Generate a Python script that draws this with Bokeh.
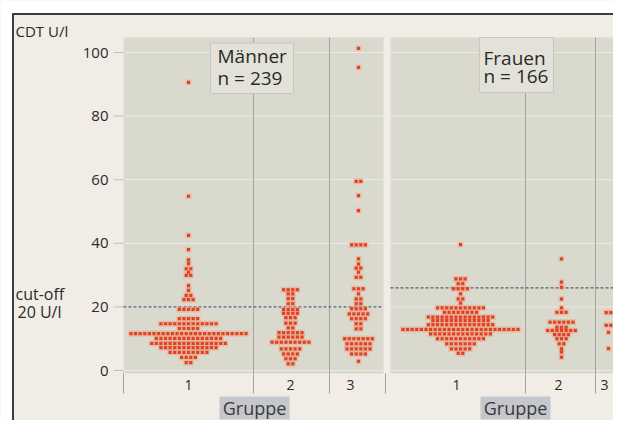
import numpy as np
from bokeh.plotting import figure
from bokeh.models import Range1d, ColumnDataSource
from bokeh.core.properties import value
from bokeh.embed import file_html
from bokeh.resources import INLINE

# ---------------- data ----------------
y_ticks = [0, 20, 40, 60, 80, 100]
group_labels = ["1", "2", "3"]
panel_titles = [("Männer", "n = 239"), ("Frauen", "n = 166")]
cutoffs = [20, 26]          # Männer, Frauen (U/l)
axis_title = "CDT U/l"
cutoff_note = ["cut-off", "20 U/l"]
x_title = "Gruppe"

# CDT values (U/l) and number of persons at each value
m1_values = [90.6, 54.8, 42.5, 38.0, 34.8, 33.6, 32.0, 30.9, 29.9, 26.7, 25.2, 23.6, 22.3,
             19.2, 16.3, 14.7, 13.2, 11.6, 10.1, 8.5, 7.2, 5.7, 4.1, 2.5]
m1_counts = [1, 1, 1, 1, 1, 1, 2, 1, 2, 1, 1, 2, 3,
             5, 5, 13, 5, 26, 15, 17, 13, 9, 4, 2]
m2_values = [25.4, 24.1, 22.6, 21.0, 19.2, 18.0, 16.6, 14.9, 13.4, 11.9, 10.5, 8.9, 6.8, 5.2, 3.7, 2.1]
m2_counts = [4, 2, 2, 2, 4, 4, 3, 3, 2, 6, 6, 9, 5, 4, 3, 2]
m3_values = [101.3, 95.3, 59.5, 55.0, 50.3, 39.5, 35.1, 33.5, 32.2, 30.9, 29.3, 25.7, 24.1, 22.5,
             21.0, 19.4, 17.8, 16.3, 14.7, 13.1, 10.0, 8.4, 6.8, 5.2, 2.9]
m3_counts = [1, 1, 2, 1, 1, 4, 1, 1, 2, 1, 2, 3, 1, 2,
             2, 4, 5, 4, 2, 2, 7, 6, 6, 4, 1]
f1_values = [39.6, 28.8, 27.3, 25.7, 24.1, 22.5, 21.2, 19.7, 18.3, 16.8, 15.7, 14.4, 12.9,
             11.5, 10.0, 8.4, 6.8, 5.4]
f1_counts = [1, 3, 2, 4, 1, 2, 1, 11, 8, 15, 13, 15, 26, 14, 11, 7, 5, 2]
f2_values = [35.1, 27.8, 26.2, 22.5, 19.7, 18.3, 15.2, 13.6, 12.6, 11.3, 10.0, 8.4, 6.8, 5.8, 4.2]
f2_counts = [1, 1, 1, 1, 1, 3, 6, 3, 7, 4, 3, 2, 1, 1, 1]
f3_values = [18.2, 14.2, 12.0, 6.9]
f3_counts = [2, 2, 1, 1]

# ---------------- layout ----------------
# x data units = picture pixels; y data units = U/l (3.18 px per unit, 0 at picture y 370)
PX = 3.18
def yv(pic_y):
    return (370.0 - pic_y) / PX

W, H = 613, 420
X_RANGE = (0, W)
Y_RANGE = (yv(H), yv(0))
PLOT_TOP, PLOT_BOT = yv(37), yv(373)
panels = [(123, 383), (390, 616)]
boundaries = [253, 329, 525, 595]
tick_marks = [123, 253, 329, 385, 525, 595]
label_pos = [188, 290, 350, 456, 558, 604]
centers = [188, 290, 358, 460, 561, 608]
DX = 4.6

BG = "#f1ece6"
PLOT_BG = "#d9dacd"
FONT = value("Open Sans")
TXT = "#2a2a2a"

p = figure(width=W, height=H, x_range=Range1d(*X_RANGE), y_range=Range1d(*Y_RANGE),
           output_backend="svg", toolbar_location=None, min_border=0,
           x_axis_type=None, y_axis_type=None)
p.background_fill_color = BG
p.border_fill_color = BG
p.outline_line_color = None
p.grid.visible = False

# page frame: white margin strips + dark border lines
p.quad(left=[X_RANGE[0], X_RANGE[0]], right=[12, X_RANGE[1]],
       bottom=[Y_RANGE[0], yv(13)], top=[Y_RANGE[1], Y_RANGE[1]],
       fill_color="white", line_color=None)
p.segment(x0=[12, 12.5], x1=[X_RANGE[1], 12.5], y0=[yv(13.5), yv(13)], y1=[yv(13.5), Y_RANGE[0]],
          line_color="#3c3c3c", line_width=2)

# gray panels
p.quad(left=[a for a, b in panels], right=[b for a, b in panels],
       bottom=PLOT_BOT, top=PLOT_TOP, fill_color=PLOT_BG, line_color=None)

# horizontal grid lines inside panels
gx0, gx1, gy = [], [], []
for a, b in panels:
    for t in y_ticks:
        gx0.append(a); gx1.append(b); gy.append(t)
p.segment(x0=gx0, x1=gx1, y0=gy, y1=gy, line_color="#ebebe3", line_width=1)

# vertical group boundaries
p.segment(x0=boundaries, x1=boundaries, y0=PLOT_BOT, y1=PLOT_TOP, line_color="#a3a39f", line_width=1)

# y axis ticks and labels
p.segment(x0=113, x1=123, y0=y_ticks, y1=y_ticks, line_color="#c6beb6", line_width=1)
p.text(x=108, y=y_ticks, text=[str(t) for t in y_ticks], text_font=FONT, text_font_size="15px",
       text_color=TXT, text_align="right", text_baseline="middle")

# x axis ticks and labels
p.segment(x0=tick_marks, x1=tick_marks, y0=PLOT_BOT, y1=yv(393), line_color="#a4a09c", line_width=1)
p.text(x=label_pos, y=yv(384), text=[group_labels[i % 3] for i in range(len(label_pos))],
       text_font=FONT, text_font_size="14px", text_color=TXT, text_align="center",
       text_baseline="middle")

# "Gruppe" boxes
gcx = [254, 515]
p.quad(left=[c - 35 for c in gcx], right=[c + 35 for c in gcx], top=yv(396), bottom=yv(419),
       fill_color="#c6c7cd", line_color=None)
p.text(x=gcx, y=yv(407.5), text=[x_title] * 2, text_font=FONT, text_font_size="18px",
       text_color="#3a3a3a", text_align="center", text_baseline="middle")

# axis title and cut-off note
p.text(x=[15], y=[yv(30)], text=[axis_title], text_font=FONT, text_font_size="15px",
       text_color=TXT, text_baseline="middle")
p.text(x=[15, 17], y=[yv(293.5), yv(311.5)], text=cutoff_note, text_font=FONT,
       text_font_size="16px", text_color=TXT, text_baseline="middle")

# panel title boxes
p.quad(left=[210, 479], right=[293, 553], top=[yv(42.5), yv(37)], bottom=[yv(93), yv(92)],
       fill_color="#e3e2d8", line_color="#c9c7bd", line_width=1)
p.text(x=[217, 217, 483, 483], y=[yv(55.5), yv(77), yv(57), yv(75)],
       text=[panel_titles[0][0], panel_titles[0][1], panel_titles[1][0], panel_titles[1][1]],
       text_font=FONT, text_font_size="19px", text_color=TXT, text_baseline="middle")

# cut-off lines
p.segment(x0=[a for a, b in panels], x1=[b for a, b in panels], y0=cutoffs, y1=cutoffs,
          line_color="#55597a", line_width=1.2, line_dash="3 2")

# dots
groups = [(m1_values, m1_counts), (m2_values, m2_counts), (m3_values, m3_counts),
          (f1_values, f1_counts), (f2_values, f2_counts), (f3_values, f3_counts)]
xs, ys = [], []
for (vals, cnts), cx in zip(groups, centers):
    for v, c in zip(vals, cnts):
        off = (np.arange(c) - (c - 1) / 2.0) * DX
        xs.extend(cx + off)
        ys.extend([v] * c)
src = ColumnDataSource(dict(x=xs, y=ys))
p.scatter("x", "y", source=src, marker="square", size=6.0, fill_color="#f39c78",
          fill_alpha=0.4, line_color=None)
p.scatter("x", "y", source=src, marker="square", size=3.2, fill_color="#df4127",
          line_color=None)

open("out.html", "w").write(file_html(p, INLINE))
